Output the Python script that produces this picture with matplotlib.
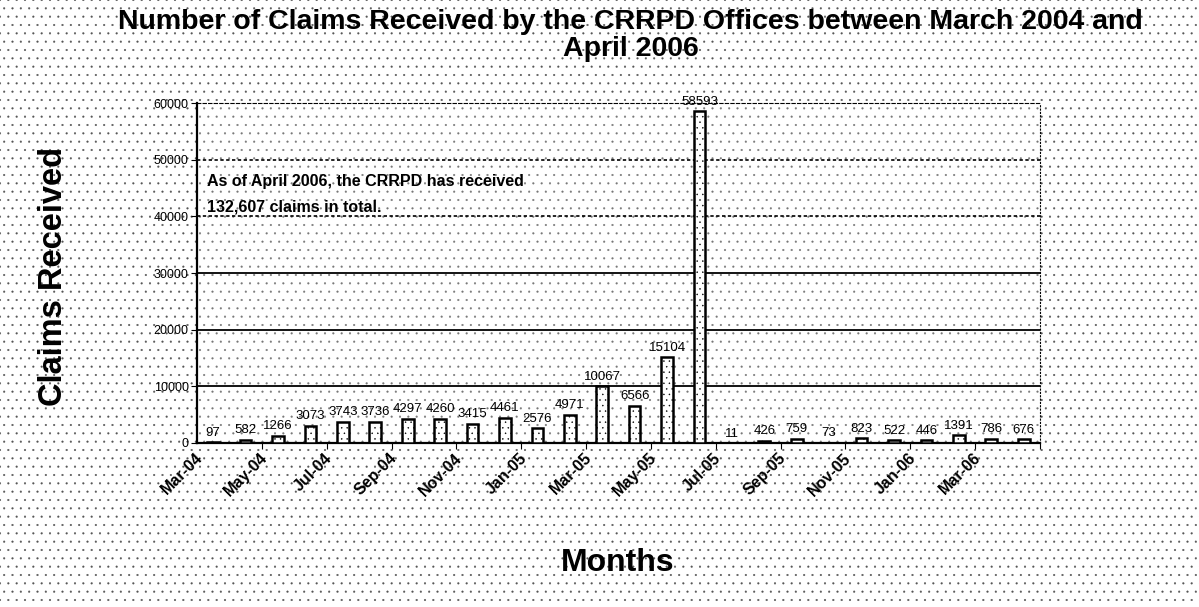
import numpy as np
import matplotlib
matplotlib.use("Agg")
import matplotlib.pyplot as plt
from matplotlib.patches import Rectangle

plt.rcParams['font.family'] = ['Liberation Sans', 'DejaVu Sans']
plt.rcParams['hatch.color'] = 'black'
plt.rcParams['hatch.linewidth'] = 0.3

# Monthly claims, Mar-04 .. Apr-06
months = ['Mar-04', 'Apr-04', 'May-04', 'Jun-04', 'Jul-04', 'Aug-04', 'Sep-04',
          'Oct-04', 'Nov-04', 'Dec-04', 'Jan-05', 'Feb-05', 'Mar-05', 'Apr-05',
          'May-05', 'Jun-05', 'Jul-05', 'Aug-05', 'Sep-05', 'Oct-05', 'Nov-05',
          'Dec-05', 'Jan-06', 'Feb-06', 'Mar-06', 'Apr-06']
claims = [97, 582, 1266, 3073, 3743, 3736, 4297, 4260, 3415, 4461, 2576, 4971,
          10067, 6566, 15104, 58593, 11, 426, 759, 73, 823, 522, 446, 1391, 786, 676]
yticks = [0, 10000, 20000, 30000, 40000, 50000, 60000]

fig = plt.figure(figsize=(11.99, 6.07), dpi=100)
fig.patch.set_facecolor('white')
# stippled background
fig.add_artist(Rectangle((0, 0), 1, 1, transform=fig.transFigure, facecolor='white',
                         edgecolor='#555555', linewidth=0, hatch='..', zorder=-10))

ax = fig.add_axes([0.1643, 0.2702, 0.703, 0.560])
ax.set_facecolor('white')
ax.add_patch(Rectangle((0, 0), 1, 1, transform=ax.transAxes, facecolor='white',
                       edgecolor='#777777', linewidth=0, hatch='..', zorder=0))

x = np.arange(len(months))
ax.bar(x, claims, width=0.36, color='white', edgecolor='black',
       linewidth=1.8, hatch='...', zorder=3)

for xi, v in zip(x, claims):
    ax.text(xi, v + 600, str(v), ha='center', va='bottom', fontsize=9.5, zorder=4)

ax.set_xlim(-0.5, len(months) - 0.5)
ax.set_ylim(0, 60000)
ax.set_yticks(yticks)
ax.set_yticklabels([str(t) for t in yticks], fontsize=9)
for t in yticks[1:4]:
    ax.axhline(t, color='black', linewidth=1.3, zorder=1)
for t in yticks[4:6]:
    ax.axhline(t, color='black', linewidth=1.2, linestyle=(0, (2, 1.5)), zorder=1)

# ticks at every second category boundary, labels at every second month
ax.set_xticks(np.arange(1.5, len(months), 2), minor=False)
ax.set_xticklabels([])
ax.set_xticks(x[::2] - 0.4, minor=True)
ax.set_xticklabels(months[::2], minor=True, rotation=45, ha='right', va='center',
                   rotation_mode='anchor', fontsize=11.5, fontweight='bold')
ax.tick_params(axis='x', which='minor', length=0, pad=9)
ax.tick_params(axis='x', which='major', length=4)
ax.tick_params(axis='y', length=4, pad=2)

ax.spines['left'].set_linewidth(1.6)
ax.spines['bottom'].set_linewidth(1.6)
ax.spines['top'].set_linestyle((0, (3, 2)))
ax.spines['right'].set_linestyle((0, (1, 2)))

ax.text(0.012, 0.79, 'As of April 2006, the CRRPD has received\n132,607 claims in total.',
        transform=ax.transAxes, fontsize=11.5, fontweight='bold', ha='left', va='top',
        linespacing=1.8, zorder=5)

fig.text(0.526, 0.985, 'Number of Claims Received by the CRRPD Offices between March 2004 and\nApril 2006',
         ha='center', va='top', fontsize=20.5, fontweight='bold', linespacing=1.05)
fig.text(0.045, 0.544, 'Claims Received', rotation=90, ha='center', va='center',
         fontsize=23.5, fontweight='bold')
fig.text(0.515, 0.072, 'Months', ha='center', va='center', fontsize=23, fontweight='bold')

fig.savefig('out.png', dpi=100)
